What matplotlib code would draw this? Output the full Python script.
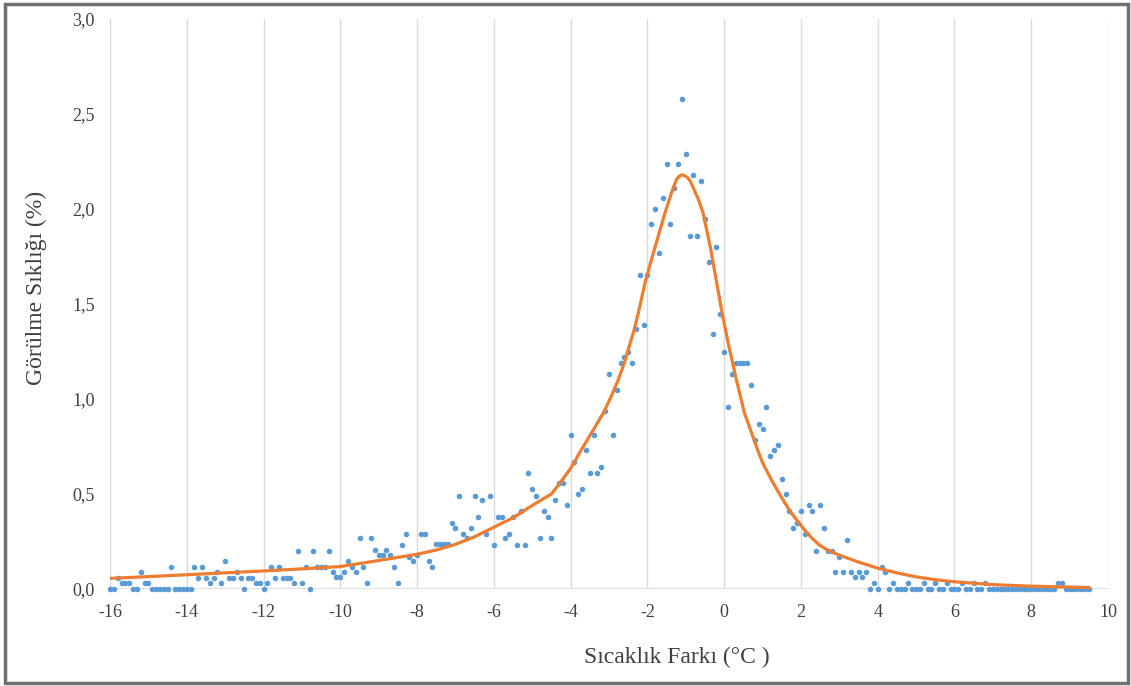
import numpy as np
import matplotlib
matplotlib.use('Agg')
import matplotlib.pyplot as plt
from matplotlib.patches import Rectangle
from matplotlib.ticker import FuncFormatter, MultipleLocator

plt.rcParams['font.family'] = ['Liberation Serif', 'DejaVu Serif']

# Sıcaklık farkı, 0.1 °C adımlarla (-16.0 ... 9.5)
sicaklik = np.round(np.arange(-160, 96) / 10.0, 1)

# Görülme sıklığı (%) - noktalar
siklik = [
    0, 0, 0.056, 0.03, 0.03, 0.03, 0, 0, 0.09, 0.03,                 # -16.0
    0.03, 0, 0, 0, 0, 0, 0.118, 0, 0, 0,                             # -15.0
    0, 0, 0.118, 0.056, 0.118, 0.056, 0.03, 0.056, 0.09, 0.03,       # -14.0
    0.15, 0.056, 0.056, 0.09, 0.056, 0, 0.056, 0.056, 0.03, 0.03,    # -13.0
    0, 0.03, 0.118, 0.056, 0.118, 0.056, 0.056, 0.056, 0.03, 0.2,    # -12.0
    0.03, 0.118, 0, 0.2, 0.118, 0.118, 0.118, 0.2, 0.09, 0.065,      # -11.0
    0.065, 0.09, 0.15, 0.118, 0.09, 0.267, 0.118, 0.03, 0.267, 0.206,  # -10.0
    0.18, 0.18, 0.206, 0.18, 0.118, 0.03, 0.23, 0.29, 0.17, 0.15,    # -9.0
    0.18, 0.29, 0.29, 0.15, 0.118, 0.235, 0.235, 0.235, 0.235, 0.346,  # -8.0
    0.32, 0.49, 0.29, 0.267, 0.32, 0.49, 0.38, 0.47, 0.29, 0.49,     # -7.0
    0.23, 0.38, 0.38, 0.267, 0.29, 0.38, 0.23, 0.41, 0.23, 0.61,     # -6.0
    0.525, 0.49, 0.267, 0.41, 0.38, 0.267, 0.47, 0.557, 0.557, 0.44,  # -5.0
    0.81, 0.67, 0.5, 0.525, 0.73, 0.61, 0.81, 0.61, 0.64, 0.935,     # -4.0
    1.13, 0.81, 1.05, 1.19, 1.22, 1.25, 1.19, 1.37, 1.655, 1.39,     # -3.0
    1.655, 1.92, 2.0, 1.77, 2.06, 2.235, 1.92, 2.11, 2.235, 2.58,    # -2.0
    2.29, 1.86, 2.18, 1.86, 2.15, 1.95, 1.72, 1.34, 1.8, 1.45,       # -1.0
    1.25, 0.96, 1.13, 1.19, 1.19, 1.19, 1.19, 1.075, 0.785, 0.87,    # 0.0
    0.84, 0.96, 0.70, 0.73, 0.76, 0.58, 0.5, 0.41, 0.32, 0.35,       # 1.0
    0.41, 0.29, 0.44, 0.41, 0.2, 0.44, 0.32, 0.2, 0.2, 0.09,         # 2.0
    0.17, 0.09, 0.26, 0.09, 0.065, 0.09, 0.065, 0.09, 0, 0.03,       # 3.0
    0, 0.118, 0.09, 0, 0.03, 0, 0, 0, 0.03, 0,                       # 4.0
    0, 0, 0.03, 0, 0, 0.03, 0, 0, 0.03, 0,                           # 5.0
    0, 0, 0.03, 0, 0, 0.03, 0, 0, 0.03, 0,                           # 6.0
    0, 0, 0, 0, 0, 0, 0, 0, 0, 0,                                    # 7.0
    0, 0, 0, 0, 0, 0, 0, 0.03, 0.03, 0,                              # 8.0
    0, 0, 0, 0, 0, 0,                                                # 9.0
]

# Uydurulan eğri (resimden okunan noktalar)
egri_x = [-16.0, -15.0, -14.0, -13.0, -12.0, -11.0, -10.0, -9.0, -8.0, -7.5,
          -7.0, -6.5, -6.0, -5.5, -5.0, -4.5, -4.25, -4.0, -3.67, -3.4,
          -3.15, -2.95, -2.76, -2.6, -2.47, -2.35, -2.24, -2.04, -1.8, -1.54,
          -1.38, -1.3, -1.24, -1.17, -1.1, -1.03, -0.95, -0.88, -0.8, -0.67,
          -0.55, -0.36, -0.21, -0.05, 0.12, 0.32, 0.53, 0.84, 1.0, 1.23,
          1.5, 1.75, 2.1, 2.3, 2.49, 2.7, 3.0, 3.5, 4.0, 4.5,
          5.0, 5.5, 6.0, 7.0, 8.0, 9.0, 9.5]
egri_y = [0.056, 0.065, 0.075, 0.085, 0.095, 0.106, 0.118, 0.150, 0.183, 0.205,
          0.235, 0.275, 0.325, 0.375, 0.44, 0.50, 0.565, 0.635, 0.75, 0.84,
          0.926, 1.01, 1.10, 1.19, 1.28, 1.36, 1.45, 1.63, 1.80, 1.98,
          2.08, 2.125, 2.156, 2.172, 2.18, 2.175, 2.165, 2.145, 2.11, 2.05,
          1.98, 1.80, 1.63, 1.45, 1.28, 1.10, 0.926, 0.75, 0.665, 0.575,
          0.48, 0.40, 0.31, 0.265, 0.23, 0.205, 0.178, 0.142, 0.11, 0.085,
          0.064, 0.049, 0.038, 0.023, 0.015, 0.01, 0.008]

W, H = 1131, 686
fig = plt.figure(figsize=(W / 100, H / 100), dpi=100)
ax = fig.add_axes([110 / W, 1 - 589 / H, 998 / W, 570 / H])

ax.scatter(sicaklik, siklik, s=16, color='#5b9bd5', zorder=2, clip_on=False,
           linewidths=0)
ax.plot(egri_x, egri_y, color='#ed7d31', linewidth=2.3, zorder=3,
        solid_joinstyle='round')

ax.set_xlim(-16, 10)
ax.set_ylim(0, 3.0)
ax.xaxis.set_major_locator(MultipleLocator(2))
ax.yaxis.set_major_locator(MultipleLocator(0.5))
ax.yaxis.set_major_formatter(FuncFormatter(lambda v, p: f"{v:.1f}".replace('.', ',')))
ax.xaxis.set_major_formatter(FuncFormatter(lambda v, p: f"{v:.0f}"))

for s in ax.spines.values():
    s.set_visible(False)
ax.grid(axis='x', color='#d9d9d9', linewidth=1, zorder=0)
ax.axhline(0, color='#d9d9d9', linewidth=1.2, zorder=1)
ax.tick_params(length=0, labelsize=13, labelcolor='#404040', pad=11)

fig.text(677 / W, 1 - 657 / H, 'Sıcaklık Farkı (°C )', ha='center', va='center',
         fontsize=17, color='#404040')
fig.text(36 / W, 1 - 288 / H, 'Görülme Sıklığı (%)', ha='center', va='center',
         rotation=90, fontsize=17, color='#404040')

# Çerçeve
fig.patches.append(Rectangle((5 / W, 3 / H), 1123 / W, 679 / H,
                             transform=fig.transFigure, fill=False,
                             edgecolor='#707070', linewidth=2.5))

fig.savefig('out.png', dpi=100)
